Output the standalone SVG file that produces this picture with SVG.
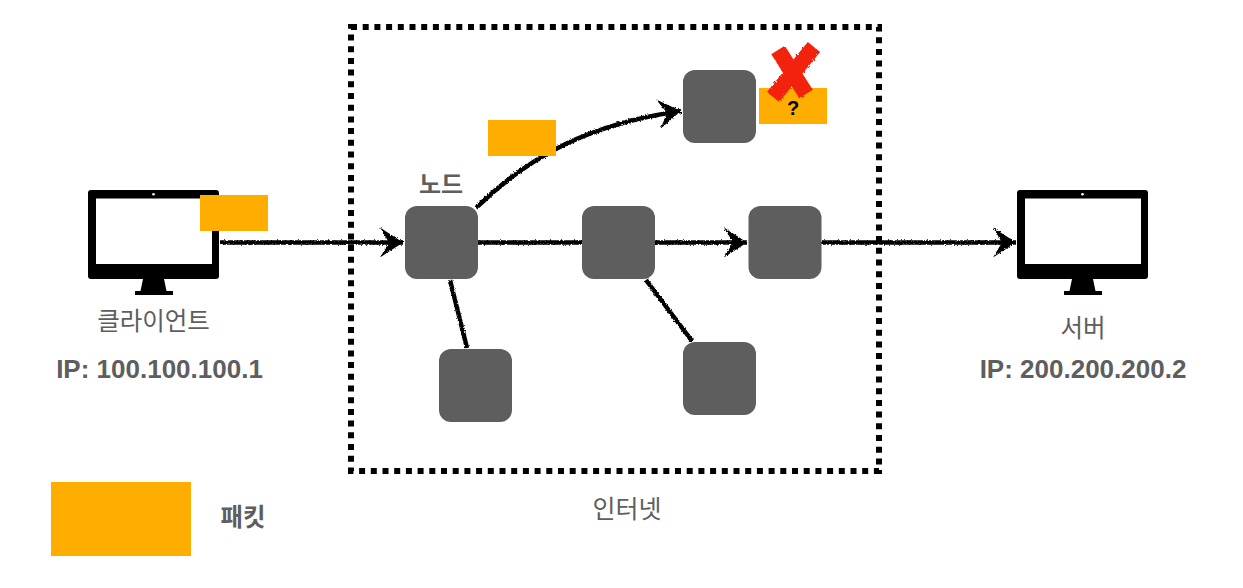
<svg xmlns="http://www.w3.org/2000/svg" width="1243" height="588" viewBox="0 0 1243 588">
<defs>
<g id="monitor">
<path fill="#000" fill-rule="evenodd" d="M3 0H128Q131 0 131 3V86Q131 89 128 89H76L78.500 101H85V105H47V101H52.500L55 89H3Q0 89 0 86V3Q0 0 3 0ZM8 8.500V74H124V8.500Z"/>
<circle cx="65.500" cy="4.300" r="1.300" fill="#fff"/>
</g>
<marker id="head" markerUnits="userSpaceOnUse" markerWidth="26" markerHeight="32" refX="24" refY="16" orient="auto">
<path d="M1 1L24 16L1 31L10 16Z" fill="#000"/>
</marker>
<filter id="rough" x="-10%" y="-50%" width="120%" height="200%" filterUnits="objectBoundingBox">
<feTurbulence type="fractalNoise" baseFrequency="0.7" numOctaves="2" seed="4"/>
<feDisplacementMap in="SourceGraphic" scale="3" xChannelSelector="R" yChannelSelector="G"/>
</filter>
<filter id="roughfat" x="-20%" y="-20%" width="140%" height="140%">
<feTurbulence type="fractalNoise" baseFrequency="0.5" numOctaves="2" seed="9"/>
<feDisplacementMap in="SourceGraphic" scale="3"/>
</filter>
</defs>
<style>
.node{fill:#5e5e5e}
.pk{fill:#ffae00}
.wire{fill:none;stroke:#000;stroke-width:4.500}
text{font-family:"Liberation Sans","Noto Sans CJK KR",sans-serif;fill:#5e5e5e}
.b{font-weight:700}
</style>
<rect id="internet-border" x="351" y="27" width="528" height="444" fill="none" stroke="#000" stroke-width="6" stroke-dasharray="6 5.700"/>
<g id="connectors" filter="url(#rough)">
<path class="wire" d="M220 242.500H403" marker-end="url(#head)"/>
<path class="wire" d="M478 242.500H582"/>
<path class="wire" d="M655 242.500H747" marker-end="url(#head)"/>
<path class="wire" d="M822 242.500H1016" marker-end="url(#head)"/>
<path class="wire" d="M476 208C530 155 590 124 681 111" marker-end="url(#head)"/>
<path class="wire" d="M450 280L467 348"/>
<path class="wire" d="M646 280L692 341"/>
</g>
<g id="client"><use href="#monitor" x="88" y="190"/><rect class="pk" x="200" y="195" width="68" height="36"/>
<text x="153.500" y="330" font-size="24.500" text-anchor="middle">클라이언트</text>
<text class="b" x="159.500" y="378" font-size="26" text-anchor="middle">IP: 100.100.100.1</text></g>
<g id="server"><use href="#monitor" x="1017" y="190"/>
<text x="1083" y="337" font-size="24.500" text-anchor="middle">서버</text>
<text class="b" x="1083" y="378" font-size="26" text-anchor="middle">IP: 200.200.200.2</text></g>
<g id="node-a"><rect class="node" x="405" y="206" width="73" height="73" rx="12"/><text class="b" x="441" y="193" font-size="24" text-anchor="middle">노드</text></g>
<g id="node-b"><rect class="node" x="582" y="206" width="73" height="73" rx="12"/></g>
<g id="node-c"><rect class="node" x="748.500" y="206" width="73" height="73" rx="12"/></g>
<g id="node-d"><rect class="node" x="683" y="70" width="73" height="73" rx="12"/></g>
<g id="node-e"><rect class="node" x="439" y="349" width="73" height="73" rx="12"/></g>
<g id="node-f"><rect class="node" x="683" y="342" width="73" height="73" rx="12"/></g>
<g id="packet-moving"><rect class="pk" x="488" y="120" width="68" height="36"/></g>
<g id="packet-lost"><rect class="pk" x="759" y="88" width="68" height="36"/>
<text x="793" y="115" font-size="20" font-weight="700" text-anchor="middle" style="fill:#000">?</text>
<path d="M778 50L806 94M814 47L773 97" fill="none" stroke="#f2230c" stroke-width="16" filter="url(#roughfat)"/></g>
<g id="legend"><rect class="pk" x="51" y="482" width="140" height="74"/><text class="b" x="243" y="526" font-size="24.500" text-anchor="middle">패킷</text></g>
<text id="internet-label" x="627" y="518" font-size="25" text-anchor="middle">인터넷</text>
</svg>
